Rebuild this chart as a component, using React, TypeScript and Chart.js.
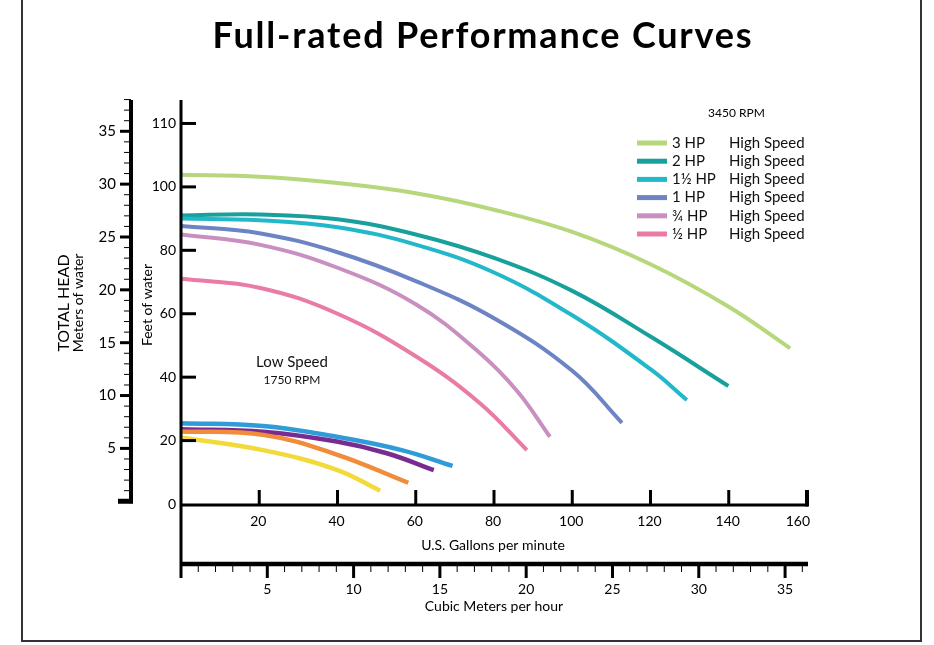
import React, { useEffect, useRef } from "react";
import { Chart, registerables } from "chart.js";

Chart.register(...registerables);

// ---------- data ----------
const seriesLabels = ["3 HP", "2 HP", "1½ HP", "1 HP", "¾ HP", "½ HP"];
const speedLabel = "High Speed";
const rpmHigh = "3450 RPM";
const lowSpeedTitle = "Low Speed";
const rpmLow = "1750 RPM";

// high speed (3450 RPM): U.S. gallons per minute vs feet of head
const gpm3hp = [0, 20, 40, 60, 80, 100, 120, 140, 155.7];
const ft3hp = [103.8, 103.2, 101.2, 98, 92.8, 85.8, 75.6, 62.2, 49.1];

const gpm2hp = [0, 20, 40, 60, 80, 100, 120, 139.9];
const ft2hp = [91, 91.3, 89.8, 85, 77.6, 67.2, 52.8, 37.2];

const gpm15hp = [0, 20, 40, 60, 80, 100, 120, 129.3];
const ft15hp = [90, 89.5, 87.3, 81.8, 73, 59.5, 42.5, 32.8];

const gpm1hp = [0, 20, 40, 60, 80, 100, 112.7];
const ft1hp = [87.7, 85.4, 79.4, 70.3, 58.6, 42, 25.6];

const gpm34hp = [0, 20, 40, 60, 76, 86, 94.3];
const ft34hp = [85, 81.8, 74.5, 63, 48, 35.5, 21.2];

const gpm12hp = [0, 20, 40, 60, 76.4, 88.4];
const ft12hp = [71, 68.2, 60, 46.6, 31.8, 17];

// low speed (1750 RPM)
const gpmLowBlue = [0, 21, 39.8, 56.4, 69.4];
const ftLowBlue = [25.5, 24.6, 21.2, 17, 12];
const gpmLowPurple = [0, 21, 39.8, 52.6, 64.6];
const ftLowPurple = [23.6, 22.8, 19.7, 16, 10.7];
const gpmLowOrange = [0, 21, 39.8, 58.1];
const ftLowOrange = [22.9, 21.8, 15.6, 6.7];
const gpmLowYellow = [0, 21, 39.8, 50.9];
const ftLowYellow = [21, 17, 10.8, 4.2];

// ticks
const feetTicks = [0, 20, 40, 60, 80, 100, 120];
const feetTickLabels = ["0", "20", "40", "60", "80", "100", "110"];
const meterTicks = [5, 10, 15, 20, 25, 30, 35];
const gpmTicks = [20, 40, 60, 80, 100, 120, 140, 160];
const cmhTicks = [5, 10, 15, 20, 25, 30, 35];

const highColors = ["#b6d77c", "#17a09c", "#22b8cc", "#6c84c4", "#c98fc0", "#ea7ba6"];
const lowColors = ["#2f9bd8", "#7a2b8f", "#f08c3a", "#f2da3a"];

const zip = (xs: number[], ys: number[]) => xs.map((v, i) => ({ x: v, y: ys[i] }));

const FONT = "Lato, 'Open Sans', sans-serif";

const decorPlugin = {
  id: "decor",
  afterDatasetsDraw(chart: any) {
    const ctx = chart.ctx as CanvasRenderingContext2D;
    const sx = chart.scales.x;
    const sy = chart.scales.y;
    const sx2 = chart.scales.x2;
    const sy2 = chart.scales.y2;
    const left = chart.chartArea.left;
    const right = chart.chartArea.right;
    const top = chart.chartArea.top;
    ctx.save();
    ctx.fillStyle = "#000";
    ctx.strokeStyle = "#000";

    // outer frame
    ctx.lineWidth = 2;
    ctx.strokeStyle = "#333";
    ctx.strokeRect(22, -5, 899, 646);
    ctx.strokeStyle = "#000";

    // title
    ctx.font = `bold 36px ${FONT}`;
    (ctx as any).letterSpacing = "1.8px";
    ctx.textAlign = "center";
    ctx.textBaseline = "alphabetic";
    ctx.fillText("Full-rated Performance Curves", 483, 48);
    (ctx as any).letterSpacing = "0px";

    const line = (x1: number, y1: number, x2: number, y2: number, w: number) => {
      ctx.lineWidth = w;
      ctx.beginPath();
      ctx.moveTo(x1, y1);
      ctx.lineTo(x2, y2);
      ctx.stroke();
    };

    // ---- feet axis ----
    const gpmY = sy.getPixelForValue(0) + 1;
    const cmhY = 564;
    line(left, top, left, 578, 3);
    ctx.font = `14px ${FONT}`;
    ctx.textAlign = "right";
    ctx.textBaseline = "middle";
    feetTicks.forEach((v, i) => {
      const py = sy.getPixelForValue(v);
      if (v > 0) line(left, py, left + 15, py, 3);
      ctx.fillText(feetTickLabels[i], left - 5, py);
    });
    ctx.save();
    ctx.translate(147, 305);
    ctx.rotate(-Math.PI / 2);
    ctx.textAlign = "center";
    ctx.fillText("Feet of water", 0, 0);
    ctx.restore();

    // ---- meters axis ----
    const mx = 131;
    const m0 = sy2.getPixelForValue(0);
    line(mx, top, mx, m0 + 2, 4);
    line(118, m0, mx + 2, m0, 5);
    for (let m = 1; m <= 38; m++) {
      const py = sy2.getPixelForValue(m);
      if (m % 5 === 0) line(mx - 11, py, mx, py, 3);
      else line(mx - 7, py, mx, py, 1);
    }
    ctx.font = `15px ${FONT}`;
    ctx.textAlign = "right";
    meterTicks.forEach((v) => {
      ctx.fillText(String(v), 116, sy2.getPixelForValue(v));
    });
    ctx.save();
    ctx.translate(64, 303);
    ctx.rotate(-Math.PI / 2);
    ctx.textAlign = "center";
    ctx.font = `16px ${FONT}`;
    ctx.fillText("TOTAL HEAD", 0, 0);
    ctx.font = `14px ${FONT}`;
    ctx.fillText("Meters of water", 0, 14);
    ctx.restore();

    // ---- gpm axis ----
    line(left, gpmY, right + 1, gpmY, 3);
    ctx.font = `14px ${FONT}`;
    gpmTicks.forEach((v, i) => {
      const px = sx.getPixelForValue(v);
      const last = i === gpmTicks.length - 1;
      line(px, gpmY - 15, px, gpmY + (last ? 1.5 : 0), last ? 4 : 3);
      ctx.textAlign = last ? "right" : "center";
      ctx.fillText(String(v), last ? px + 3 : px - 1, gpmY + 16);
    });
    ctx.textAlign = "center";
    ctx.fillText("U.S. Gallons per minute", 493, 545);

    // ---- m3/h axis ----
    line(left, cmhY, right + 1, cmhY, 4.5);
    for (let c = 1; c <= 36; c++) {
      const px = sx2.getPixelForValue(c);
      if (c % 5 === 0) line(px, cmhY, px, cmhY + 14, 3);
      else line(px, cmhY, px, cmhY + 8, 1);
    }
    cmhTicks.forEach((v) => {
      ctx.fillText(String(v), sx2.getPixelForValue(v), cmhY + 25);
    });
    ctx.fillText("Cubic Meters per hour", 494, 606);

    // ---- legend ----
    ctx.textAlign = "left";
    ctx.font = `12px ${FONT}`;
    ctx.fillText(rpmHigh, 708, 113);
    ctx.font = `15px ${FONT}`;
    seriesLabels.forEach((lab, i) => {
      const ry = 143 + i * 18.2;
      ctx.fillStyle = highColors[i];
      ctx.fillRect(637, ry - 2.5, 30, 5);
      ctx.fillStyle = "#111";
      ctx.fillText(lab, 672, ry);
      ctx.fillText(speedLabel, 729, ry);
    });

    // ---- low speed label ----
    ctx.textAlign = "center";
    ctx.font = `15px ${FONT}`;
    ctx.fillText(lowSpeedTitle, 292, 362);
    ctx.font = `12px ${FONT}`;
    ctx.fillText(rpmLow, 292, 380);

    ctx.restore();
  },
};

export default function App() {
  const ref = useRef<HTMLCanvasElement | null>(null);
  useEffect(() => {
    if (!ref.current) return;
    const mk = (xs: number[], ys: number[], color: string, w: number) => ({
      data: zip(xs, ys),
      borderColor: color,
      backgroundColor: color,
      borderWidth: w,
      pointRadius: 0,
      tension: 0.4,
      fill: false,
    });
    const chart = new Chart(ref.current, {
      type: "line",
      data: {
        datasets: [
          mk(gpmLowYellow, ftLowYellow, lowColors[3], 4.5),
          mk(gpmLowOrange, ftLowOrange, lowColors[2], 4.5),
          mk(gpmLowPurple, ftLowPurple, lowColors[1], 4.5),
          mk(gpmLowBlue, ftLowBlue, lowColors[0], 4.5),
          mk(gpm12hp, ft12hp, highColors[5], 4),
          mk(gpm34hp, ft34hp, highColors[4], 4),
          mk(gpm1hp, ft1hp, highColors[3], 4),
          mk(gpm15hp, ft15hp, highColors[2], 4),
          mk(gpm2hp, ft2hp, highColors[1], 4),
          mk(gpm3hp, ft3hp, highColors[0], 4),
        ],
      },
      options: {
        animation: false,
        responsive: false,
        devicePixelRatio: 1,
        layout: { padding: { left: 181, top: 100, right: 127, bottom: 141 } },
        plugins: { legend: { display: false }, title: { display: false }, tooltip: { enabled: false } },
        scales: {
          x: { type: "linear", min: 0, max: 160, display: false },
          x2: { type: "linear", min: 0, max: 36.27, display: false },
          y: { type: "linear", min: 0, max: 127.4, display: false },
          y2: { type: "linear", min: -0.26, max: 37.96, display: false },
        },
      },
      plugins: [decorPlugin],
    });
    return () => chart.destroy();
  }, []);
  return (
    <div style={{ position: "absolute", left: 0, top: 0, width: 934, height: 645, background: "#fff" }}>
      <canvas ref={ref} width={934} height={645} style={{ display: "block", width: 934, height: 645 }} />
    </div>
  );
}
